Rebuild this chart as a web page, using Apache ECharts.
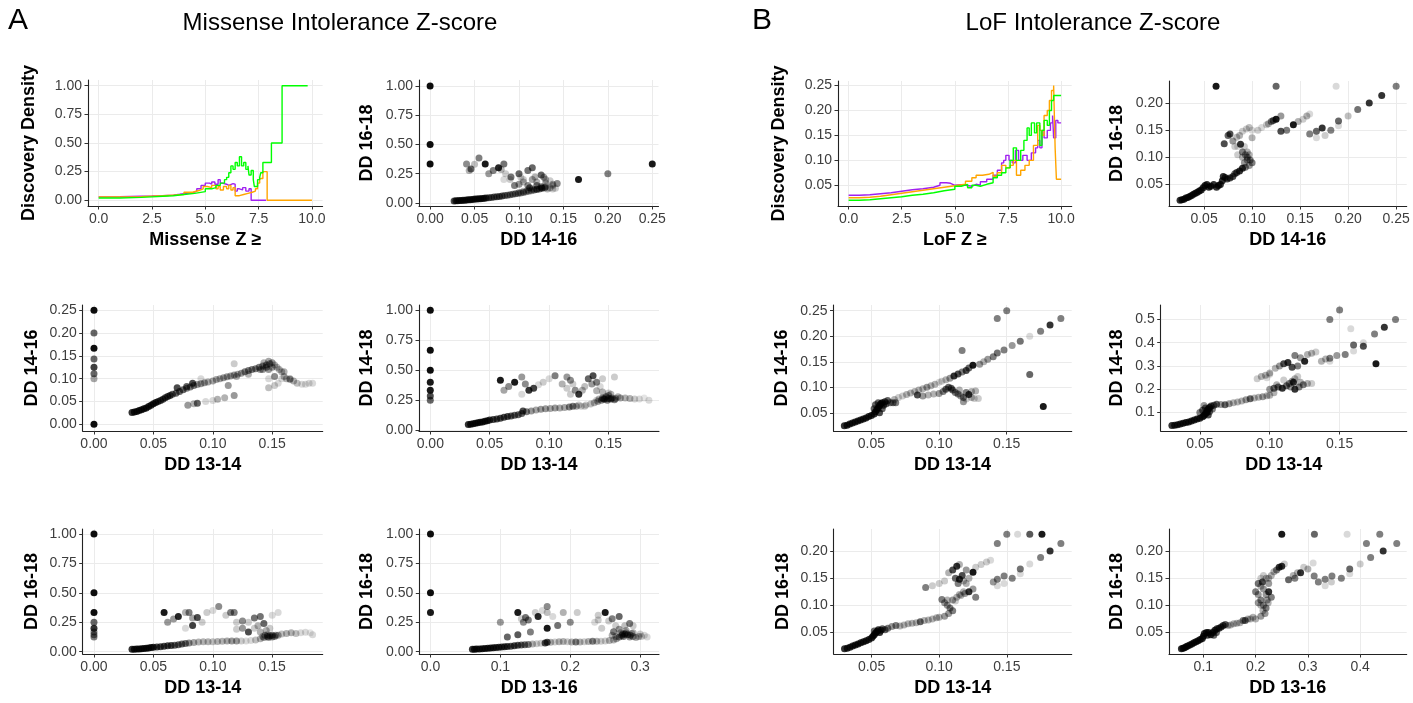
<!DOCTYPE html>
<html><head><meta charset="utf-8">
<script src="https://cdn.jsdelivr.net/npm/echarts@6/dist/echarts.min.js"></script>
<style>html,body{margin:0;padding:0;background:#fff}#c{width:1413px;height:703px}</style>
</head><body><div id="c"></div>
<script>
// ---------- Missense discovery-density curves (x = Missense Z >=, y = discovery density) ----------
const misPurple = [[0,0.03],[0.5,0.031],[1,0.033],[1.5,0.035],[2,0.037],[2.5,0.04],[3,0.045],[3.5,0.052],[3.8,0.06],[4.1,0.065],[4.4,0.08],[4.6,0.1],[4.8,0.13],[5.0,0.15],[5.2,0.14],[5.3,0.16],[5.45,0.14],[5.6,0.18],[5.7,0.15],[5.8,0.14],[6.0,0.13],[6.1,0.145],[6.3,0.14],[6.4,0.08],[6.5,0.1],[6.6,0.09],[6.75,0.11],[6.9,0.08],[7.05,0.1],[7.15,0],[7.85,0]];
const misOrange = [[0,0.03],[1,0.032],[2,0.036],[2.5,0.04],[3,0.045],[3.5,0.05],[4,0.07],[4.4,0.085],[4.7,0.1],[4.9,0.12],[5.1,0.11],[5.3,0.13],[5.5,0.1],[5.6,0.12],[5.7,0.09],[5.85,0.12],[6.0,0.1],[6.1,0.13],[6.2,0.09],[6.3,0.11],[6.4,0.04],[6.6,0.05],[6.8,0.06],[7.0,0.07],[7.2,0.08],[7.35,0.1],[7.45,0.15],[7.55,0.19],[7.7,0.25],[7.9,0],[10,0]];
const misGreen = [[0,0.02],[1,0.025],[2,0.03],[2.5,0.035],[3,0.04],[3.5,0.05],[4,0.06],[4.5,0.075],[5.0,0.1],[5.3,0.11],[5.5,0.13],[5.7,0.15],[5.9,0.18],[6.0,0.2],[6.1,0.24],[6.2,0.3],[6.3,0.27],[6.4,0.33],[6.5,0.3],[6.6,0.38],[6.7,0.3],[6.8,0.33],[6.9,0.27],[7.0,0.3],[7.05,0.22],[7.15,0.26],[7.25,0.18],[7.3,0.12],[7.45,0.18],[7.55,0.2],[7.6,0.24],[7.7,0.33],[8.1,0.5],[8.6,1.0],[9.8,1.0]];

// ---------- LoF discovery-density curves ----------
const lofPurple = [[0,0.03],[0.5,0.031],[1,0.033],[1.5,0.035],[2,0.038],[2.5,0.041],[3,0.043],[3.5,0.046],[4,0.05],[4.3,0.055],[4.6,0.054],[4.8,0.05],[5.0,0.051],[5.3,0.05],[5.5,0.048],[5.8,0.052],[6.0,0.05],[6.2,0.057],[6.5,0.062],[6.8,0.07],[7.0,0.08],[7.2,0.095],[7.3,0.1],[7.4,0.11],[7.55,0.1],[7.7,0.095],[7.85,0.12],[8.0,0.1],[8.2,0.11],[8.4,0.1],[8.6,0.115],[8.8,0.125],[8.9,0.14],[9.0,0.125],[9.1,0.16],[9.2,0.145],[9.35,0.16],[9.5,0.175],[9.6,0.19],[9.65,0.145],[9.75,0.18],[9.85,0.175],[10,0.175]];
const lofOrange = [[0,0.025],[0.5,0.026],[1,0.028],[1.5,0.031],[2,0.034],[2.5,0.037],[3,0.04],[3.5,0.043],[4,0.046],[4.5,0.049],[5.0,0.052],[5.5,0.058],[5.8,0.065],[6.0,0.07],[6.3,0.072],[6.6,0.076],[6.8,0.068],[7.0,0.075],[7.2,0.09],[7.4,0.085],[7.6,0.09],[7.75,0.1],[7.9,0.07],[8.1,0.08],[8.3,0.09],[8.5,0.1],[8.7,0.13],[8.9,0.17],[9.0,0.16],[9.1,0.15],[9.2,0.19],[9.35,0.2],[9.45,0.22],[9.55,0.24],[9.65,0.25],[9.72,0.125],[9.78,0.062],[10,0.062]];
const lofGreen = [[0,0.02],[0.5,0.021],[1,0.023],[1.5,0.025],[2,0.027],[2.5,0.03],[3,0.032],[3.5,0.035],[4,0.039],[4.5,0.042],[5.0,0.048],[5.3,0.052],[5.6,0.045],[5.8,0.05],[6.0,0.048],[6.2,0.052],[6.5,0.055],[6.8,0.065],[7.0,0.07],[7.2,0.075],[7.4,0.085],[7.6,0.1],[7.75,0.125],[7.9,0.1],[8.1,0.12],[8.25,0.14],[8.4,0.165],[8.5,0.15],[8.6,0.175],[8.75,0.155],[8.85,0.175],[9.0,0.13],[9.1,0.16],[9.2,0.18],[9.35,0.17],[9.45,0.2],[9.55,0.22],[9.65,0.23],[10,0.23]];

// ---------- Scatter points [x, y, alpha] ----------
// Missense: DD 14-16 (x) vs DD 16-18 (y)
const misDD1416_1618 = [[0,1,0.95],[0,0.5,0.95],[0,0.333,0.95],[0.25,0.333,0.9],[0.2,0.25,0.5],[0.167,0.2,0.9],
[0.041,0.333,0.45],[0.044,0.278,0.3],[0.046,0.29,0.6],[0.05,0.33,0.25],[0.055,0.385,0.5],[0.062,0.333,0.9],[0.066,0.25,0.4],[0.071,0.278,0.5],[0.077,0.3,0.85],[0.083,0.333,0.55],[0.08,0.286,0.3],[0.083,0.2,0.15],[0.091,0.222,0.55],[0.09,0.2,0.2],[0.1,0.25,0.6],[0.105,0.2,0.2],[0.11,0.278,0.55],[0.115,0.3,0.6],[0.118,0.222,0.3],[0.125,0.24,0.6],[0.128,0.22,0.4],[0.13,0.2,0.3],[0.135,0.19,0.2],[0.143,0.167,0.45],[0.095,0.15,0.5],[0.1,0.16,0.4],[0.105,0.18,0.3],[0.11,0.15,0.45],[0.115,0.2,0.35],[0.12,0.15,0.5],[0.125,0.13,0.5],[0.13,0.17,0.3],[0.138,0.15,0.25],[0.12,0.18,0.3],[0.112,0.13,0.6],[0.085,0.25,0.2],[0.102,0.22,0.2],[0.138,0.16,0.35],
[0.027,0.017,0.7],[0.029,0.018,0.7],[0.031,0.019,0.7],[0.033,0.02,0.7],[0.035,0.021,0.7],[0.037,0.023,0.7],[0.039,0.024,0.7],[0.041,0.025,0.7],[0.043,0.027,0.7],[0.045,0.028,0.7],[0.047,0.03,0.7],[0.049,0.031,0.7],[0.051,0.033,0.7],[0.053,0.034,0.7],[0.055,0.036,0.7],[0.057,0.037,0.7],[0.059,0.039,0.7],[0.061,0.041,0.7],[0.063,0.043,0.7],[0.066,0.045,0.6],[0.069,0.047,0.6],[0.072,0.05,0.6],[0.075,0.053,0.6],[0.078,0.056,0.6],[0.081,0.06,0.6],[0.084,0.063,0.5],[0.087,0.066,0.5],[0.09,0.07,0.5],[0.093,0.074,0.5],[0.096,0.078,0.5],[0.099,0.08,0.4],[0.102,0.085,0.4],[0.105,0.09,0.45],[0.108,0.095,0.4],[0.111,0.1,0.4],[0.114,0.105,0.4],[0.117,0.11,0.5],[0.12,0.115,0.5],[0.123,0.12,0.5],[0.126,0.125,0.6],[0.129,0.13,0.5],[0.132,0.12,0.3],[0.135,0.13,0.3],[0.138,0.12,0.2],[0.141,0.125,0.2],[0.12,0.12,0.4],[0.115,0.12,0.3],[0.11,0.11,0.3],[0.105,0.1,0.3],[0.1,0.09,0.3],[0.125,0.14,0.4],[0.13,0.14,0.4]];

// Missense: DD 13-14 (x) vs DD 14-16 (y)
const misDD1314_1416 = [[0,0.25,0.95],[0,0.2,0.6],[0,0.167,0.95],[0,0.143,0.6],[0,0.125,0.75],[0,0.111,0.6],[0,0.1,0.35],[0,0,0.95],
[0.032,0.026,0.8],[0.034,0.027,0.8],[0.036,0.028,0.8],[0.038,0.03,0.8],[0.040,0.032,0.8],[0.042,0.034,0.8],[0.044,0.036,0.8],[0.046,0.039,0.8],[0.048,0.042,0.8],[0.05,0.045,0.8],[0.052,0.048,0.8],[0.054,0.05,0.7],[0.056,0.052,0.7],[0.058,0.055,0.7],[0.06,0.058,0.7],[0.062,0.061,0.7],[0.064,0.063,0.7],[0.066,0.066,0.6],[0.069,0.068,0.6],[0.072,0.072,0.6],[0.075,0.076,0.6],[0.078,0.079,0.5],[0.081,0.082,0.5],[0.084,0.085,0.5],[0.087,0.087,0.4],[0.09,0.089,0.4],[0.093,0.091,0.4],[0.096,0.093,0.35],[0.1,0.095,0.35],[0.103,0.098,0.35],[0.106,0.1,0.35],[0.109,0.102,0.4],[0.112,0.104,0.4],[0.115,0.106,0.4],[0.118,0.108,0.4],[0.121,0.11,0.35],[0.124,0.112,0.4],[0.127,0.115,0.5],[0.13,0.118,0.5],[0.133,0.12,0.5],[0.136,0.122,0.5],[0.139,0.125,0.5],[0.142,0.128,0.45],[0.145,0.13,0.5],[0.148,0.133,0.45],[0.15,0.135,0.4],[0.152,0.13,0.3],[0.154,0.125,0.3],[0.156,0.12,0.3],[0.158,0.115,0.3],[0.16,0.105,0.3],[0.162,0.1,0.3],[0.165,0.1,0.35],[0.168,0.095,0.3],[0.171,0.09,0.25],[0.175,0.088,0.15],[0.178,0.088,0.15],[0.181,0.09,0.15],[0.184,0.09,0.15],
[0.07,0.08,0.7],[0.078,0.083,0.6],[0.083,0.09,0.7],[0.12,0.105,0.3],[0.13,0.11,0.3],[0.14,0.12,0.4],[0.145,0.125,0.5],[0.142,0.12,0.4],[0.147,0.12,0.4],[0.15,0.125,0.4],[0.143,0.135,0.3],[0.147,0.138,0.35],
[0.079,0.042,0.4],[0.084,0.045,0.3],[0.087,0.046,0.6],[0.094,0.05,0.15],[0.1,0.052,0.15],[0.104,0.055,0.3],[0.11,0.058,0.3],[0.118,0.063,0.4],[0.113,0.085,0.4],[0.118,0.133,0.2],[0.09,0.1,0.15],[0.147,0.1,0.15],[0.147,0.08,0.25],[0.152,0.085,0.2],[0.152,0.105,0.45],[0.16,0.115,0.3],[0.165,0.098,0.3],[0.155,0.09,0.15],[0.158,0.1,0.15]];

// Missense: DD 13-14 (x) vs DD 14-18 (y)
const misDD1314_1418 = [[0,1,0.95],[0,0.667,0.95],[0,0.5,0.95],[0,0.4,0.9],[0,0.333,0.9],[0,0.286,0.7],[0,0.25,0.6],
[0.059,0.417,0.9],[0.062,0.333,0.35],[0.066,0.364,0.45],[0.071,0.4,0.9],[0.077,0.444,0.4],[0.08,0.385,0.45],[0.077,0.3,0.15],[0.083,0.333,0.8],[0.087,0.35,0.75],[0.091,0.38,0.15],[0.095,0.4,0.2],[0.1,0.43,0.15],[0.105,0.455,0.5],[0.111,0.385,0.3],[0.115,0.444,0.4],[0.118,0.417,0.45],[0.115,0.35,0.2],[0.12,0.385,0.2],[0.122,0.333,0.45],[0.125,0.3,0.8],[0.13,0.364,0.25],[0.133,0.43,0.6],[0.137,0.455,0.7],[0.136,0.385,0.4],[0.14,0.4,0.5],[0.145,0.43,0.2],[0.143,0.364,0.15],[0.155,0.444,0.2],[0.118,0.3,0.2],[0.128,0.333,0.3],[0.14,0.33,0.3],[0.145,0.32,0.3],
[0.032,0.048,0.8],[0.034,0.05,0.8],[0.036,0.054,0.8],[0.038,0.058,0.8],[0.04,0.062,0.8],[0.042,0.066,0.8],[0.044,0.07,0.8],[0.046,0.075,0.8],[0.048,0.08,0.8],[0.05,0.085,0.75],[0.053,0.09,0.7],[0.056,0.095,0.7],[0.059,0.1,0.7],[0.062,0.108,0.7],[0.065,0.115,0.7],[0.068,0.12,0.65],[0.071,0.125,0.6],[0.074,0.13,0.6],[0.077,0.14,0.6],[0.078,0.16,0.7],[0.081,0.155,0.5],[0.085,0.16,0.4],[0.089,0.17,0.35],[0.093,0.175,0.4],[0.097,0.18,0.4],[0.101,0.182,0.35],[0.105,0.185,0.4],[0.109,0.185,0.35],[0.113,0.19,0.35],[0.117,0.195,0.5],[0.12,0.2,0.5],[0.123,0.2,0.35],[0.127,0.2,0.2],[0.131,0.21,0.2],[0.135,0.22,0.25],[0.138,0.23,0.3],[0.141,0.24,0.35],[0.144,0.25,0.45],[0.147,0.26,0.5],[0.15,0.265,0.5],[0.153,0.27,0.45],[0.156,0.265,0.4],[0.16,0.27,0.35],[0.164,0.27,0.3],[0.168,0.265,0.3],[0.172,0.26,0.2],[0.176,0.26,0.15],[0.18,0.27,0.1],[0.184,0.25,0.15],
[0.145,0.27,0.5],[0.148,0.28,0.5],[0.15,0.29,0.4],[0.152,0.3,0.3],[0.146,0.26,0.6],[0.149,0.25,0.5],[0.152,0.26,0.6],[0.155,0.255,0.5],[0.142,0.26,0.3],[0.14,0.25,0.2],[0.158,0.28,0.3],[0.15,0.31,0.2],[0.13,0.2,0.2],[0.125,0.21,0.2]];

// Missense: DD 13-14 (x) vs DD 16-18 (y)
const misDD1314_1618 = [[0,1,0.95],[0,0.5,0.95],[0,0.333,0.95],[0,0.25,0.6],[0,0.2,0.8],[0,0.167,0.5],[0,0.143,0.5],[0,0.125,0.5],
[0.059,0.333,0.9],[0.062,0.25,0.4],[0.067,0.278,0.4],[0.071,0.3,0.85],[0.077,0.333,0.3],[0.08,0.333,0.5],[0.077,0.2,0.15],[0.083,0.286,0.35],[0.083,0.222,0.75],[0.087,0.29,0.7],[0.091,0.25,0.2],[0.095,0.333,0.2],[0.1,0.35,0.15],[0.105,0.385,0.45],[0.111,0.31,0.2],[0.115,0.333,0.5],[0.118,0.333,0.5],[0.12,0.25,0.2],[0.12,0.19,0.2],[0.125,0.26,0.45],[0.125,0.2,0.4],[0.13,0.167,0.7],[0.13,0.25,0.2],[0.135,0.286,0.55],[0.14,0.3,0.55],[0.135,0.2,0.2],[0.138,0.22,0.3],[0.143,0.24,0.6],[0.15,0.31,0.15],[0.155,0.333,0.15],[0.14,0.167,0.3],[0.145,0.18,0.3],[0.148,0.2,0.2],
[0.032,0.02,0.8],[0.034,0.021,0.8],[0.036,0.022,0.8],[0.038,0.024,0.8],[0.04,0.026,0.8],[0.042,0.028,0.8],[0.044,0.03,0.8],[0.046,0.032,0.8],[0.048,0.035,0.8],[0.05,0.038,0.8],[0.053,0.04,0.7],[0.056,0.043,0.7],[0.059,0.046,0.7],[0.062,0.05,0.7],[0.065,0.052,0.7],[0.068,0.055,0.6],[0.071,0.06,0.6],[0.074,0.065,0.6],[0.077,0.07,0.55],[0.08,0.075,0.45],[0.084,0.078,0.35],[0.088,0.082,0.3],[0.092,0.085,0.3],[0.096,0.085,0.3],[0.1,0.085,0.25],[0.104,0.087,0.3],[0.108,0.088,0.3],[0.112,0.09,0.35],[0.116,0.09,0.4],[0.12,0.09,0.4],[0.124,0.09,0.2],[0.128,0.092,0.15],[0.132,0.095,0.15],[0.136,0.1,0.25],[0.14,0.11,0.3],[0.143,0.12,0.4],[0.146,0.13,0.55],[0.148,0.135,0.5],[0.15,0.14,0.5],[0.152,0.13,0.4],[0.155,0.14,0.35],[0.158,0.15,0.25],[0.162,0.155,0.3],[0.166,0.16,0.3],[0.17,0.155,0.25],[0.174,0.16,0.15],[0.178,0.165,0.15],[0.182,0.16,0.1],[0.184,0.145,0.15],[0.144,0.14,0.4],[0.147,0.12,0.4],[0.15,0.125,0.4],[0.153,0.14,0.4],[0.142,0.13,0.3],[0.146,0.145,0.3]];

// Missense: DD 13-16 (x) vs DD 16-18 (y)
const misDD1316_1618 = [[0,1,0.95],[0,0.5,0.95],[0,0.333,0.9],
[0.1,0.25,0.4],[0.11,0.125,0.6],[0.125,0.333,0.9],[0.125,0.143,0.65],[0.13,0.28,0.2],[0.133,0.25,0.45],[0.136,0.29,0.55],[0.14,0.27,0.5],[0.143,0.167,0.5],[0.15,0.333,0.2],[0.154,0.3,0.85],[0.16,0.35,0.15],[0.167,0.385,0.45],[0.167,0.333,0.25],[0.167,0.2,0.9],[0.175,0.3,0.15],[0.182,0.222,0.55],[0.19,0.333,0.3],[0.2,0.25,0.45],[0.21,0.333,0.2],[0.235,0.25,0.15],[0.24,0.31,0.2],[0.24,0.27,0.2],[0.25,0.333,0.9],[0.245,0.2,0.2],[0.26,0.28,0.5],[0.27,0.3,0.6],[0.265,0.22,0.2],[0.285,0.24,0.5],[0.278,0.22,0.25],[0.255,0.26,0.2],[0.262,0.17,0.5],[0.27,0.19,0.4],[0.275,0.15,0.4],[0.29,0.22,0.2],[0.28,0.18,0.3],
[0.06,0.02,0.8],[0.063,0.021,0.8],[0.066,0.022,0.8],[0.07,0.024,0.8],[0.074,0.026,0.8],[0.078,0.028,0.8],[0.082,0.03,0.8],[0.086,0.032,0.8],[0.09,0.034,0.8],[0.094,0.036,0.75],[0.098,0.038,0.75],[0.102,0.04,0.7],[0.106,0.042,0.7],[0.11,0.044,0.7],[0.115,0.047,0.65],[0.12,0.05,0.7],[0.125,0.055,0.65],[0.13,0.058,0.6],[0.135,0.06,0.55],[0.14,0.062,0.5],[0.146,0.065,0.3],[0.152,0.068,0.2],[0.158,0.072,0.2],[0.164,0.075,0.7],[0.167,0.08,0.7],[0.172,0.08,0.3],[0.178,0.082,0.2],[0.184,0.085,0.3],[0.19,0.086,0.3],[0.196,0.085,0.2],[0.202,0.082,0.3],[0.208,0.083,0.5],[0.214,0.083,0.3],[0.22,0.085,0.2],[0.226,0.086,0.3],[0.232,0.088,0.5],[0.238,0.088,0.3],[0.244,0.088,0.2],[0.25,0.09,0.2],[0.256,0.095,0.3],[0.262,0.1,0.3],[0.266,0.11,0.35],[0.27,0.125,0.5],[0.274,0.14,0.6],[0.278,0.15,0.6],[0.282,0.145,0.55],[0.286,0.14,0.5],[0.29,0.13,0.4],[0.294,0.12,0.3],[0.298,0.13,0.3],[0.302,0.13,0.2],[0.306,0.14,0.15],[0.31,0.125,0.15],[0.276,0.13,0.5],[0.28,0.16,0.4],[0.272,0.16,0.3],[0.285,0.125,0.4],[0.288,0.155,0.3],[0.29,0.16,0.3],[0.3,0.15,0.2],[0.26,0.14,0.3],[0.265,0.13,0.3]];

// LoF: DD 14-16 (x) vs DD 16-18 (y)
const lofDD1416_1618 = [[0.0625,0.231,0.9],[0.125,0.231,0.6],[0.1875,0.231,0.15],[0.25,0.231,0.5],
[0.235,0.214,0.8],[0.222,0.2,0.8],[0.21,0.188,0.55],[0.2,0.176,0.25],[0.19,0.167,0.6],[0.19,0.158,0.15],[0.182,0.15,0.5],[0.173,0.154,0.8],[0.167,0.148,0.6],[0.167,0.136,0.15],[0.16,0.143,0.5],[0.176,0.14,0.2],
[0.13,0.148,0.7],[0.136,0.15,0.5],[0.143,0.16,0.9],[0.148,0.166,0.3],[0.153,0.17,0.2],[0.157,0.176,0.3],[0.16,0.18,0.15],
[0.13,0.176,0.4],[0.125,0.17,0.9],[0.122,0.168,0.6],[0.12,0.166,0.5],[0.117,0.162,0.3],[0.115,0.16,0.2],[0.11,0.155,0.15],[0.106,0.15,0.2],[0.1,0.136,0.3],[0.1,0.15,0.15],[0.097,0.155,0.25],[0.094,0.152,0.2],[0.09,0.148,0.2],[0.087,0.14,0.3],[0.084,0.137,0.25],[0.077,0.143,0.7],[0.075,0.14,0.6],[0.071,0.125,0.7],[0.08,0.13,0.4],[0.082,0.12,0.2],
[0.085,0.12,0.15],[0.088,0.124,0.8],[0.09,0.11,0.5],[0.093,0.105,0.4],[0.095,0.1,0.5],[0.098,0.095,0.5],[0.1,0.09,0.5],[0.097,0.085,0.4],[0.093,0.082,0.5],[0.09,0.08,0.8],[0.087,0.075,0.8],[0.084,0.072,0.7],[0.082,0.07,0.6],[0.08,0.065,0.7],[0.077,0.062,0.7],[0.074,0.06,0.7],[0.072,0.063,0.7],[0.07,0.065,0.8],[0.069,0.057,0.8],[0.067,0.05,0.8],[0.065,0.048,0.8],[0.063,0.045,0.8],[0.06,0.05,0.8],[0.057,0.047,0.8],[0.055,0.045,0.8],[0.053,0.05,0.8],[0.051,0.048,0.8],[0.049,0.044,0.8],[0.047,0.04,0.8],[0.045,0.038,0.8],[0.043,0.036,0.8],[0.041,0.034,0.8],[0.039,0.032,0.8],[0.037,0.03,0.8],[0.035,0.028,0.8],[0.033,0.026,0.8],[0.031,0.025,0.8],[0.029,0.023,0.8],[0.027,0.022,0.8],[0.025,0.021,0.8],[0.092,0.09,0.4],[0.095,0.095,0.4],[0.09,0.1,0.3],[0.085,0.105,0.2],[0.095,0.11,0.3],[0.092,0.12,0.2],[0.097,0.105,0.3]];

// LoF: DD 13-14 (x) vs DD 14-16 (y)
const lofDD1314_1416 = [[0.15,0.25,0.5],[0.143,0.235,0.5],[0.19,0.235,0.5],[0.182,0.222,0.8],[0.175,0.21,0.5],[0.167,0.2,0.15],[0.16,0.19,0.55],[0.154,0.182,0.4],[0.148,0.173,0.5],[0.143,0.167,0.55],[0.14,0.16,0.5],[0.136,0.155,0.4],[0.133,0.15,0.3],[0.13,0.145,0.4],[0.125,0.143,0.9],[0.122,0.138,0.6],[0.12,0.133,0.7],[0.117,0.13,0.5],[0.114,0.126,0.7],[0.111,0.122,0.8],[0.108,0.118,0.4],[0.105,0.115,0.3],[0.102,0.112,0.2],[0.1,0.11,0.15],[0.097,0.106,0.3],[0.094,0.103,0.3],[0.091,0.1,0.4],[0.088,0.097,0.3],[0.085,0.095,0.3],[0.082,0.092,0.3],[0.079,0.089,0.3],[0.076,0.086,0.3],[0.073,0.083,0.2],[0.07,0.08,0.2],[0.067,0.076,0.3],
[0.117,0.172,0.5],[0.167,0.125,0.6],[0.177,0.0625,0.9],
[0.084,0.085,0.7],[0.088,0.083,0.4],[0.092,0.085,0.3],[0.096,0.087,0.3],[0.1,0.088,0.4],[0.103,0.092,0.5],[0.105,0.096,0.6],[0.107,0.1,0.6],[0.109,0.098,0.6],[0.11,0.095,0.6],[0.112,0.09,0.5],[0.114,0.087,0.5],[0.116,0.083,0.4],[0.118,0.08,0.5],[0.118,0.072,0.4],[0.12,0.09,0.5],[0.122,0.086,0.8],[0.124,0.08,0.3],[0.126,0.078,0.2],[0.129,0.078,0.2],[0.127,0.093,0.3],[0.124,0.092,0.3],[0.115,0.095,0.3],[0.12,0.077,0.2],
[0.03,0.025,0.8],[0.032,0.026,0.8],[0.034,0.028,0.8],[0.036,0.03,0.8],[0.038,0.032,0.8],[0.04,0.034,0.8],[0.042,0.036,0.8],[0.044,0.038,0.8],[0.046,0.04,0.8],[0.048,0.043,0.8],[0.05,0.045,0.8],[0.052,0.048,0.8],[0.053,0.052,0.8],[0.054,0.056,0.8],[0.055,0.06,0.8],[0.056,0.064,0.8],[0.057,0.068,0.8],[0.058,0.07,0.8],[0.06,0.072,0.7],[0.062,0.074,0.6],[0.055,0.07,0.6],[0.053,0.066,0.6],[0.059,0.065,0.7],[0.061,0.068,0.6],[0.064,0.07,0.5],[0.066,0.07,0.5],[0.068,0.07,0.5],[0.052,0.058,0.6],[0.058,0.058,0.6],[0.056,0.05,0.7]];

// LoF: DD 13-14 (x) vs DD 14-18 (y)
const lofDD1314_1418 = [[0.143,0.5,0.5],[0.15,0.54,0.5],[0.19,0.5,0.5],[0.182,0.467,0.8],[0.175,0.438,0.5],[0.167,0.4,0.15],[0.167,0.385,0.7],[0.16,0.364,0.15],[0.16,0.39,0.6],[0.176,0.31,0.9],[0.158,0.46,0.15],[0.154,0.35,0.5],[0.148,0.345,0.4],[0.143,0.333,0.5],[0.143,0.32,0.15],[0.14,0.33,0.3],[0.137,0.32,0.3],[0.133,0.36,0.2],[0.13,0.355,0.3],[0.127,0.35,0.3],[0.125,0.32,0.85],[0.122,0.335,0.4],[0.118,0.345,0.5],[0.116,0.295,0.7],[0.12,0.3,0.5],[0.113,0.315,0.8],[0.11,0.31,0.7],[0.107,0.3,0.4],[0.104,0.29,0.3],[0.1,0.27,0.3],[0.097,0.26,0.3],[0.094,0.255,0.3],[0.091,0.245,0.2],[0.098,0.25,0.15],[0.1,0.265,0.15],
[0.1,0.2,0.4],[0.103,0.205,0.6],[0.106,0.21,0.6],[0.109,0.205,0.8],[0.112,0.215,0.6],[0.114,0.225,0.5],[0.116,0.235,0.4],[0.118,0.245,0.3],[0.12,0.255,0.2],[0.117,0.23,0.8],[0.118,0.2,0.8],[0.121,0.21,0.5],[0.124,0.22,0.5],[0.127,0.225,0.3],[0.13,0.225,0.2],[0.105,0.22,0.3],[0.11,0.24,0.2],[0.115,0.21,0.4],[0.122,0.23,0.3],
[0.03,0.045,0.8],[0.032,0.046,0.8],[0.034,0.048,0.8],[0.036,0.051,0.8],[0.038,0.054,0.8],[0.04,0.057,0.8],[0.042,0.06,0.8],[0.044,0.064,0.8],[0.046,0.068,0.8],[0.048,0.072,0.8],[0.05,0.076,0.8],[0.052,0.082,0.8],[0.053,0.088,0.8],[0.054,0.095,0.8],[0.055,0.1,0.8],[0.055,0.108,0.8],[0.056,0.115,0.8],[0.057,0.122,0.8],[0.058,0.128,0.7],[0.06,0.132,0.6],[0.062,0.136,0.6],[0.065,0.135,0.4],[0.068,0.134,0.6],[0.071,0.138,0.4],[0.074,0.142,0.3],[0.077,0.146,0.3],[0.08,0.15,0.3],[0.083,0.155,0.4],[0.086,0.16,0.6],[0.089,0.163,0.3],[0.092,0.166,0.3],[0.095,0.168,0.4],[0.098,0.172,0.3],[0.1,0.175,0.3],[0.103,0.185,0.3],[0.052,0.11,0.6],[0.054,0.12,0.6],[0.057,0.105,0.6],[0.059,0.115,0.5],[0.053,0.13,0.4],[0.056,0.09,0.7],[0.05,0.1,0.5]];

// LoF: DD 13-14 (x) vs DD 16-18 (y)
const lofDD1314_1618 = [[0.15,0.231,0.5],[0.158,0.231,0.15],[0.167,0.231,0.65],[0.176,0.231,0.9],[0.143,0.214,0.5],[0.19,0.214,0.5],[0.182,0.2,0.8],[0.175,0.188,0.5],[0.167,0.176,0.15],[0.16,0.167,0.55],[0.16,0.158,0.15],[0.154,0.15,0.5],[0.148,0.154,0.5],[0.143,0.148,0.5],[0.143,0.136,0.15],[0.148,0.14,0.15],[0.14,0.143,0.4],
[0.09,0.133,0.5],[0.095,0.136,0.2],[0.1,0.14,0.2],[0.104,0.145,0.2],[0.107,0.16,0.3],[0.11,0.165,0.7],[0.113,0.172,0.8],[0.115,0.175,0.3],[0.112,0.15,0.6],[0.115,0.148,0.8],[0.117,0.155,0.7],[0.114,0.14,0.5],[0.118,0.145,0.3],[0.12,0.14,0.3],[0.125,0.161,0.9],[0.122,0.15,0.3],[0.127,0.17,0.2],[0.131,0.175,0.2],[0.135,0.18,0.2],[0.138,0.183,0.15],[0.12,0.165,0.4],
[0.102,0.111,0.5],[0.104,0.105,0.4],[0.106,0.1,0.4],[0.108,0.095,0.5],[0.11,0.09,0.5],[0.107,0.085,0.4],[0.104,0.08,0.4],[0.1,0.078,0.3],[0.106,0.11,0.3],[0.11,0.11,0.4],[0.113,0.115,0.3],[0.116,0.118,0.3],[0.119,0.122,0.4],[0.122,0.125,0.8],[0.125,0.13,0.4],[0.127,0.115,0.5],[0.118,0.125,0.3],[0.115,0.12,0.3],[0.112,0.108,0.2],
[0.03,0.02,0.8],[0.032,0.021,0.8],[0.034,0.023,0.8],[0.036,0.025,0.8],[0.038,0.027,0.8],[0.04,0.029,0.8],[0.042,0.031,0.8],[0.044,0.033,0.8],[0.046,0.035,0.8],[0.048,0.037,0.8],[0.05,0.04,0.8],[0.051,0.043,0.8],[0.052,0.046,0.8],[0.053,0.049,0.8],[0.054,0.052,0.8],[0.055,0.055,0.8],[0.056,0.05,0.8],[0.057,0.054,0.7],[0.058,0.057,0.6],[0.052,0.053,0.6],[0.06,0.055,0.6],[0.062,0.058,0.5],[0.065,0.061,0.4],[0.068,0.063,0.5],[0.071,0.062,0.3],[0.074,0.064,0.3],[0.077,0.066,0.3],[0.08,0.067,0.3],[0.083,0.068,0.3],[0.086,0.07,0.6],[0.089,0.072,0.3],[0.092,0.073,0.3],[0.095,0.075,0.3],[0.098,0.077,0.3]];

// LoF: DD 13-16 (x) vs DD 16-18 (y)
const lofDD1316_1618 = [[0.25,0.231,0.9],[0.3125,0.231,0.6],[0.375,0.231,0.15],[0.4375,0.231,0.5],[0.412,0.214,0.5],[0.47,0.214,0.5],[0.444,0.2,0.8],[0.42,0.188,0.5],[0.4,0.176,0.2],[0.38,0.167,0.6],[0.38,0.158,0.15],[0.364,0.15,0.5],[0.346,0.154,0.5],[0.333,0.148,0.5],[0.333,0.136,0.15],[0.32,0.143,0.5],[0.345,0.143,0.2],[0.312,0.154,0.5],[0.286,0.16,0.8],[0.3,0.167,0.3],[0.31,0.178,0.15],[0.275,0.15,0.5],[0.263,0.147,0.6],[0.272,0.155,0.3],[0.28,0.16,0.3],[0.292,0.17,0.2],
[0.235,0.162,0.3],[0.24,0.165,0.5],[0.245,0.17,0.8],[0.25,0.172,0.8],[0.255,0.176,0.2],[0.23,0.155,0.3],[0.225,0.15,0.3],
[0.2,0.125,0.5],[0.205,0.14,0.55],[0.21,0.15,0.2],[0.213,0.143,0.7],[0.215,0.13,0.4],[0.21,0.11,0.5],[0.205,0.105,0.4],[0.215,0.1,0.4],[0.22,0.095,0.5],[0.22,0.12,0.4],[0.225,0.125,0.8],[0.23,0.115,0.5],[0.218,0.085,0.4],[0.21,0.08,0.4],[0.2,0.075,0.3],[0.22,0.15,0.3],[0.225,0.14,0.4],[0.215,0.155,0.2],[0.205,0.12,0.4],[0.21,0.135,0.3],[0.222,0.11,0.4],[0.214,0.09,0.3],[0.224,0.105,0.3],[0.21,0.1,0.3],
[0.058,0.02,0.8],[0.061,0.021,0.8],[0.064,0.022,0.8],[0.067,0.024,0.8],[0.07,0.025,0.8],[0.074,0.027,0.8],[0.078,0.029,0.8],[0.082,0.031,0.8],[0.086,0.033,0.8],[0.09,0.035,0.8],[0.094,0.037,0.8],[0.098,0.039,0.8],[0.1,0.043,0.8],[0.102,0.048,0.8],[0.106,0.05,0.8],[0.11,0.05,0.8],[0.114,0.046,0.8],[0.118,0.05,0.8],[0.122,0.054,0.8],[0.126,0.057,0.7],[0.13,0.058,0.7],[0.134,0.06,0.7],[0.138,0.063,0.7],[0.142,0.065,0.6],[0.147,0.063,0.3],[0.152,0.064,0.3],[0.158,0.066,0.3],[0.164,0.067,0.3],[0.17,0.068,0.3],[0.176,0.072,0.5],[0.18,0.072,0.6],[0.185,0.075,0.3],[0.19,0.075,0.3],[0.195,0.078,0.3],[0.108,0.045,0.7],[0.12,0.045,0.6],[0.125,0.05,0.6]];

// ---------- Tick values ----------
const zTicks = [0, 2.5, 5, 7.5, 10];
const unitQuarterTicks = [0, 0.25, 0.5, 0.75, 1];
const tick005to025 = [0, 0.05, 0.1, 0.15, 0.2, 0.25];
const tick000to015 = [0, 0.05, 0.1, 0.15];
const tick00to03 = [0, 0.1, 0.2, 0.3];
const tick005to025nz = [0.05, 0.1, 0.15, 0.2, 0.25];
const tick005to020 = [0.05, 0.1, 0.15, 0.2];
const tick005to015 = [0.05, 0.1, 0.15];
const tick01to05 = [0.1, 0.2, 0.3, 0.4, 0.5];
const tick01to04 = [0.1, 0.2, 0.3, 0.4];

// ---------- Layout (pixels) ----------
const FONT = "'Liberation Sans', Arial, sans-serif";
const panels = [
  {g:[88,80,234.6,126], x:[-0.5,10.5,zTicks,1,'Missense Z ≥'], y:[-0.05,1.05,unitQuarterTicks,2,'Discovery Density'], yGap:50, lines:[misPurple,misOrange,misGreen]},
  {g:[419,80,239.5,126], x:[-0.0125,0.257,tick005to025,2,'DD 14-16'], y:[-0.026,1.051,unitQuarterTicks,2,'DD 16-18'], yGap:43, pts:misDD1416_1618},
  {g:[82.7,305,240,126], x:[-0.0095,0.1925,tick000to015,2,'DD 13-14'], y:[-0.0147,0.2616,tick005to025,2,'DD 14-16'], yGap:42, pts:misDD1314_1416},
  {g:[419,305,240,126], x:[-0.0095,0.1925,tick000to015,2,'DD 13-14'], y:[-0.006,1.044,unitQuarterTicks,2,'DD 14-18'], yGap:43, pts:misDD1314_1418},
  {g:[82.7,529,240,125], x:[-0.0095,0.1925,tick000to015,2,'DD 13-14'], y:[-0.0195,1.0425,unitQuarterTicks,2,'DD 16-18'], yGap:42, pts:misDD1314_1618},
  {g:[419.3,529,239.7,125], x:[-0.016,0.327,tick00to03,1,'DD 13-16'], y:[-0.0195,1.0425,unitQuarterTicks,2,'DD 16-18'], yGap:43, pts:misDD1316_1618},
  {g:[838,81,233.7,125], x:[-0.5,10.5,zTicks,1,'LoF Z ≥'], y:[0.0085,0.259,tick005to025nz,2,'Discovery Density'], yGap:50, lines:[lofPurple,lofOrange,lofGreen]},
  {g:[1169,81,237.7,125], x:[0.0135,0.261,tick005to025nz,2,'DD 14-16'], y:[0.0105,0.2405,tick005to020,2,'DD 16-18'], yGap:43, pts:lofDD1416_1618},
  {g:[833.5,305,238.2,126], x:[0.022,0.198,tick005to015,2,'DD 13-14'], y:[0.0145,0.2612,tick005to025nz,2,'DD 14-16'], yGap:42, pts:lofDD1314_1416},
  {g:[1160.7,305,246,126], x:[0.022,0.198,tick005to015,2,'DD 13-14'], y:[0.021,0.562,tick01to05,1,'DD 14-18'], yGap:35, pts:lofDD1314_1418},
  {g:[833.7,529,238,125], x:[0.022,0.198,tick005to015,2,'DD 13-14'], y:[0.0105,0.2405,tick005to020,2,'DD 16-18'], yGap:42, pts:lofDD1314_1618},
  {g:[1169,529,237.7,125], x:[0.0343,0.489,tick01to04,1,'DD 13-16'], y:[0.0105,0.2405,tick005to020,2,'DD 16-18'], yGap:43, pts:lofDD1316_1618}
];
const lineColors = ['#A020F0', '#FFA500', '#00FF00'];

function makeAxis(spec, idx, isY, gap) {
  const [min, max, ticks, dec, name] = spec;
  return {
    type: 'value', gridIndex: idx, min: min, max: max,
    name: name, nameLocation: 'middle', nameGap: isY ? gap : 25, nameRotate: isY ? 90 : 0,
    nameTextStyle: {fontFamily: FONT, fontSize: 18, fontWeight: 'bold', color: '#000'},
    axisLine: {show: true, onZero: false, lineStyle: {color: '#222', width: 1.1}},
    axisTick: {show: true, inside: false, length: 3.5, customValues: ticks, lineStyle: {color: '#333', width: 1}},
    axisLabel: {customValues: ticks, margin: 6, fontFamily: FONT, fontSize: 14, color: '#3d3d3d',
      formatter: v => Number(v).toFixed(dec)},
    splitLine: {show: true, lineStyle: {color: '#EBEBEB', width: 1}},
    minorSplitLine: {show: false}
  };
}

const option = {
  animation: false, backgroundColor: '#fff',
  grid: [], xAxis: [], yAxis: [], series: [],
  graphic: [
    {type: 'text', left: 8, top: 6, style: {text: 'A', font: '30px ' + FONT, fill: '#000'}},
    {type: 'text', x: 340, y: 23, style: {text: 'Missense Intolerance Z-score', font: '24px ' + FONT, fill: '#000', textAlign: 'center', textVerticalAlign: 'middle'}},
    {type: 'text', left: 752, top: 6, style: {text: 'B', font: '30px ' + FONT, fill: '#000'}},
    {type: 'text', x: 1093, y: 23, style: {text: 'LoF Intolerance Z-score', font: '24px ' + FONT, fill: '#000', textAlign: 'center', textVerticalAlign: 'middle'}}
  ]
};

panels.forEach((p, i) => {
  option.grid.push({left: p.g[0], top: p.g[1], width: p.g[2], height: p.g[3], containLabel: false});
  option.xAxis.push(makeAxis(p.x, i, false));
  option.yAxis.push(makeAxis(p.y, i, true, p.yGap));
  if (p.lines) {
    p.lines.forEach((ln, k) => option.series.push({
      type: 'line', xAxisIndex: i, yAxisIndex: i, data: ln, step: 'end', showSymbol: false, silent: true,
      lineStyle: {color: lineColors[k], width: 1.4}, itemStyle: {color: lineColors[k]}
    }));
  }
  if (p.pts) {
    option.series.push({
      type: 'scatter', xAxisIndex: i, yAxisIndex: i, symbolSize: 7, silent: true,
      itemStyle: {color: '#000'},
      data: p.pts.map(d => ({value: [d[0], d[1]], itemStyle: {opacity: d[2]}}))
    });
  }
});

const chart = echarts.init(document.getElementById('c'), null, {renderer: 'canvas'});
chart.setOption(option);
</script></body></html>
